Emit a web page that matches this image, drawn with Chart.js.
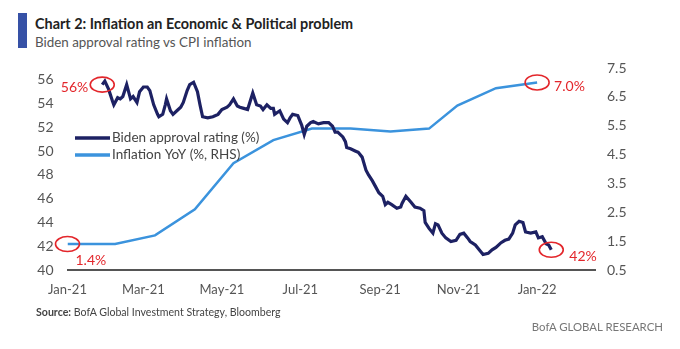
<!DOCTYPE html>
<html>
<head>
<meta charset="utf-8">
<script src="https://cdn.jsdelivr.net/npm/chart.js@4"></script>
<style>
  html, body { margin: 0; padding: 0; background: #fff; }
  #page { position: relative; width: 680px; height: 349px; overflow: hidden; font-family: Lato, sans-serif; }
  #bar { position: absolute; left: 18px; top: 13px; width: 9px; height: 35px; background: #3651a6; }
  #title { position: absolute; left: 35px; top: 15px; font-size: 14.4px; font-weight: bold; color: #222; white-space: nowrap; }
  #subtitle { position: absolute; left: 35px; top: 34px; font-size: 13.4px; color: #555; white-space: nowrap; }
  #source { position: absolute; left: 36px; top: 306px; font-size: 10.6px; color: #444; white-space: nowrap; }
  #brand { position: absolute; right: 17px; top: 320px; font-size: 11.4px; color: #777; white-space: nowrap; }
  #wrap { position: absolute; left: 0; top: 0; width: 680px; height: 349px; }
</style>
</head>
<body>
<div id="page">
  <div id="bar"></div>
  <div id="title">Chart 2: Inflation an Economic &amp; Political problem</div>
  <div id="subtitle">Biden approval rating vs CPI inflation</div>
  <div id="wrap"><canvas id="chart" width="680" height="349"></canvas></div>
  <div id="source"><b>Source:</b> BofA Global Investment Strategy, Bloomberg</div>
  <div id="brand">BofA GLOBAL RESEARCH</div>
</div>
<script>
// days counted from 1 Jan 2021
const monthTickDays = [0, 59, 120, 181, 243, 304, 365];
const monthTickLabels = ['Jan-21', 'Mar-21', 'May-21', 'Jul-21', 'Sep-21', 'Nov-21', 'Jan-22'];
const leftTicks = [40, 42, 44, 46, 48, 50, 52, 54, 56];
const rightTicks = [0.5, 1.5, 2.5, 3.5, 4.5, 5.5, 6.5, 7.5];

const approvalDays = [
  27, 29, 32, 35, 36, 39, 41, 43, 46, 48, 49, 51, 54, 56, 59, 62, 64, 67, 70, 71,
  74, 76, 77, 80, 82, 85, 88, 90, 93, 95, 98, 101, 103, 105, 109, 113, 117, 120, 124, 126,
  129, 132, 134, 137, 140, 142, 144, 147, 150, 152, 155, 158, 160, 161, 165, 168, 171, 173, 175, 179,
  182, 184, 186, 189, 191, 195, 199, 203, 206, 208, 210, 214, 216, 217, 220, 224, 226, 229, 232, 234,
  237, 239, 242, 245, 247, 249, 252, 256, 259, 260, 263, 267, 270, 274, 277, 278, 281, 284, 286, 288,
  291, 294, 298, 302, 305, 308, 311, 313, 317, 320, 323, 327, 330, 333, 337, 340, 343, 346, 348, 351,
  354, 356, 360, 364, 366, 369, 372, 374, 376
];
const approvalValues = [
  55.6, 55.9, 55.2, 54.2, 53.9, 54.5, 54.4, 54.6, 55.6, 54.8, 54.4, 54.6, 54.1, 55.0, 55.4, 55.4, 55.1, 53.9, 53.1, 52.9,
  53.1, 53.9, 54.4, 53.4, 53.1, 53.4, 53.7, 54.1, 55.1, 55.6, 55.8, 55.0, 53.9, 52.9, 52.8, 52.9, 53.1, 53.5, 53.7, 53.9,
  54.4, 53.8, 53.7, 53.6, 53.5, 54.2, 54.9, 53.9, 53.8, 53.5, 53.9, 53.6, 53.6, 53.1, 53.4, 52.7, 52.4, 52.8, 53.1, 53.0,
  52.2, 51.4, 52.1, 52.4, 52.5, 52.3, 52.4, 52.4, 52.1, 51.6, 51.6, 51.2, 50.8, 50.3, 50.2, 50.0, 49.9, 49.5, 48.4, 48.0,
  47.5, 47.1, 46.5, 46.2, 45.5, 45.7, 45.5, 45.2, 45.3, 45.6, 46.2, 45.7, 45.3, 45.2, 45.0, 44.0, 43.5, 43.1, 43.9, 43.8,
  43.1, 42.7, 42.4, 42.5, 43.0, 43.1, 42.7, 42.4, 42.1, 41.7, 41.3, 41.4, 41.7, 41.9, 42.3, 42.5, 42.6, 43.1, 43.8, 44.1,
  44.0, 43.2, 43.1, 43.2, 42.7, 42.8, 42.2, 42.1, 41.7
];

const inflationDays = [0, 37, 68, 99, 129, 160, 190, 220, 251, 281, 303, 333, 365];
const inflationValues = [1.4, 1.4, 1.7, 2.6, 4.2, 5.0, 5.4, 5.4, 5.3, 5.4, 6.2, 6.8, 7.0];

const seriesLabels = ['Biden approval rating (%)', 'Inflation YoY (%, RHS)'];
const seriesColors = ['#1d2163', '#3b93dd'];

// circled values: [label, series index, point index, label offset x, label offset y, text align]
const callouts = [
  ['56%', 0, 0, -14, 3, 'right'],
  ['1.4%', 1, 0, 8, 16, 'left'],
  ['7.0%', 1, inflationValues.length - 1, 17, 4, 'left'],
  ['42%', 0, approvalValues.length - 1, 18, 7, 'left']
];

const toPoints = (xs, ys) => xs.map((x, i) => ({x: x, y: ys[i]}));

const legendPlugin = {
  id: 'insideLegend',
  afterDatasetsDraw(chart) {
    const ctx = chart.ctx;
    ctx.save();
    ctx.font = '13.5px Lato';
    ctx.textBaseline = 'middle';
    seriesLabels.forEach((label, i) => {
      const y = 138 + i * 17;
      ctx.strokeStyle = seriesColors[i];
      ctx.lineWidth = 3.5;
      ctx.beginPath();
      ctx.moveTo(75, y);
      ctx.lineTo(110, y);
      ctx.stroke();
      ctx.fillStyle = '#444';
      ctx.textAlign = 'left';
      ctx.fillText(label, 112, y);
    });
    ctx.restore();
  }
};

const calloutPlugin = {
  id: 'callouts',
  afterDatasetsDraw(chart) {
    const ctx = chart.ctx;
    ctx.save();
    ctx.font = '14px Lato';
    ctx.textBaseline = 'middle';
    callouts.forEach(([text, ds, idx, dx, dy, align]) => {
      const pt = chart.getDatasetMeta(ds).data[idx];
      ctx.strokeStyle = '#e3262b';
      ctx.lineWidth = 1.6;
      ctx.beginPath();
      ctx.ellipse(pt.x, pt.y, 12, 7.5, 0, 0, Math.PI * 2);
      ctx.stroke();
      ctx.fillStyle = '#e3262b';
      ctx.textAlign = align;
      ctx.fillText(text, pt.x + dx, pt.y + dy);
    });
    ctx.restore();
  }
};

new Chart(document.getElementById('chart'), {
  type: 'line',
  data: {
    datasets: [{
      label: seriesLabels[0],
      data: toPoints(approvalDays, approvalValues),
      borderColor: seriesColors[0],
      borderWidth: 3.2,
      pointRadius: 0,
      tension: 0,
      yAxisID: 'y'
    }, {
      label: seriesLabels[1],
      data: toPoints(inflationDays, inflationValues),
      borderColor: seriesColors[1],
      borderWidth: 2.5,
      pointRadius: 0,
      tension: 0,
      yAxisID: 'y1'
    }]
  },
  options: {
    responsive: false,
    animation: false,
    layout: {padding: {top: 68, bottom: 49, left: 0, right: 40}},
    plugins: {legend: {display: false}, tooltip: {enabled: false}},
    scales: {
      x: {
        type: 'linear',
        min: 0,
        max: 410,
        afterBuildTicks: (scale) => { scale.ticks = monthTickDays.map(v => ({value: v})); },
        afterFit: (scale) => { scale.height = 30; },
        grid: {display: false, drawTicks: false},
        border: {display: true, color: '#555', width: 2},
        ticks: {
          autoSkip: false,
          maxRotation: 0,
          padding: 12,
          color: '#555',
          font: {family: 'Lato', size: 13},
          callback: (value, index) => monthTickLabels[index]
        }
      },
      y: {
        position: 'left',
        min: 40,
        max: 57,
        afterBuildTicks: (scale) => { scale.ticks = leftTicks.map(v => ({value: v})); },
        afterFit: (scale) => { scale.width = 67.5; },
        grid: {display: false, drawTicks: false},
        border: {display: false},
        ticks: {padding: 14, color: '#555', font: {family: 'Lato', size: 14}}
      },
      y1: {
        position: 'right',
        min: 0.5,
        max: 7.5,
        afterBuildTicks: (scale) => { scale.ticks = rightTicks.map(v => ({value: v})); },
        afterFit: (scale) => { scale.width = 45; },
        grid: {display: false, drawTicks: false},
        border: {display: false},
        ticks: {
          padding: 12,
          color: '#555',
          font: {family: 'Lato', size: 14},
          callback: (value) => value.toFixed(1)
        }
      }
    }
  },
  plugins: [legendPlugin, calloutPlugin]
});
</script>
</body>
</html>
